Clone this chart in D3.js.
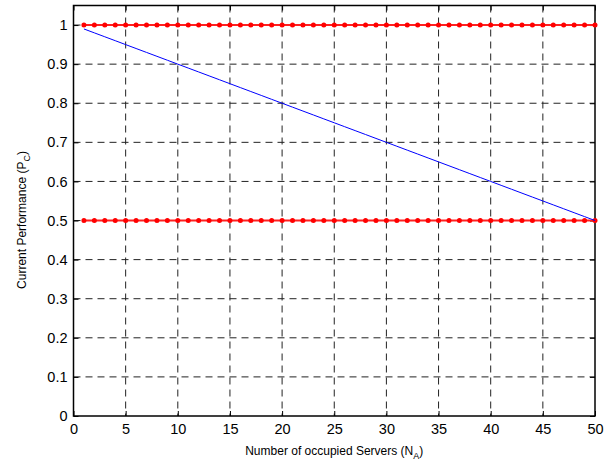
<!DOCTYPE html>
<html>
<head>
<meta charset="utf-8">
<script src="https://cdn.jsdelivr.net/npm/d3@7"></script>
<style>
  body { margin: 0; background: #fff; }
  svg { display: block; }
  text { font-family: "Liberation Sans", Arial, Helvetica, sans-serif; fill: #000; }
</style>
</head>
<body>
<script>
'use strict';

// number of occupied servers (x values of every series)
const servers = [1, 2, 3, 4, 5, 6, 7, 8, 9, 10, 11, 12, 13, 14, 15, 16, 17, 18, 19, 20,
  21, 22, 23, 24, 25, 26, 27, 28, 29, 30, 31, 32, 33, 34, 35, 36, 37, 38, 39, 40,
  41, 42, 43, 44, 45, 46, 47, 48, 49, 50];

// current performance (blue curve)
const performance = [0.99, 0.98, 0.97, 0.96, 0.95, 0.94, 0.93, 0.92, 0.91, 0.90,
  0.89, 0.88, 0.87, 0.86, 0.85, 0.84, 0.83, 0.82, 0.81, 0.80,
  0.79, 0.78, 0.77, 0.76, 0.75, 0.74, 0.73, 0.72, 0.71, 0.70,
  0.69, 0.68, 0.67, 0.66, 0.65, 0.64, 0.63, 0.62, 0.61, 0.60,
  0.59, 0.58, 0.57, 0.56, 0.55, 0.54, 0.53, 0.52, 0.51, 0.50];

// upper and lower limits (red dotted lines)
const upperLimit = 1.0;
const lowerLimit = 0.5;

const xTicks = [0, 5, 10, 15, 20, 25, 30, 35, 40, 45, 50];
const yTicks = [0, 0.1, 0.2, 0.3, 0.4, 0.5, 0.6, 0.7, 0.8, 0.9, 1];

const W = 616, H = 463;
const margin = {top: 5.5, right: 21, bottom: 47, left: 73.5};
const width = W - margin.left - margin.right;
const height = H - margin.top - margin.bottom;

const svg = d3.select('body').append('svg')
  .attr('width', W)
  .attr('height', H);

const g = svg.append('g')
  .attr('transform', 'translate(' + margin.left + ',' + margin.top + ')');

const x = d3.scaleLinear().domain([0, 50]).range([0, width]);
const y = d3.scaleLinear().domain([0, 1.05]).range([height, 0]);

// dashed grid
g.append('g').selectAll('line')
  .data(xTicks.slice(1, -1))
  .enter().append('line')
  .attr('x1', d => x(d)).attr('x2', d => x(d))
  .attr('y1', 0).attr('y2', height)
  .style('stroke', '#222')
  .style('stroke-width', 1)
  .style('stroke-dasharray', '7,5');

g.append('g').selectAll('line')
  .data(yTicks.slice(1))
  .enter().append('line')
  .attr('x1', 0).attr('x2', width)
  .attr('y1', d => y(d)).attr('y2', d => y(d))
  .style('stroke', '#222')
  .style('stroke-width', 1)
  .style('stroke-dasharray', '7,5');

// axes with inward ticks
const xAxis = g.append('g')
  .attr('transform', 'translate(0,' + height + ')')
  .call(d3.axisBottom(x).tickValues(xTicks).tickSizeInner(-5).tickSizeOuter(0).tickPadding(8).tickFormat(d3.format('d')));

const xAxisTop = g.append('g')
  .call(d3.axisTop(x).tickValues(xTicks).tickSizeInner(-5).tickSizeOuter(0).tickFormat(''));

const yAxis = g.append('g')
  .call(d3.axisLeft(y).tickValues(yTicks).tickSizeInner(-5).tickSizeOuter(0).tickPadding(6).tickFormat(d => d3.format('~g')(d)));

const yAxisRight = g.append('g')
  .attr('transform', 'translate(' + width + ',0)')
  .call(d3.axisRight(y).tickValues(yTicks).tickSizeInner(-5).tickSizeOuter(0).tickFormat(''));

[xAxis, xAxisTop, yAxis, yAxisRight].forEach(a => {
  a.select('.domain').remove();
  a.selectAll('.tick line').style('stroke', '#000');
  a.selectAll('text').style('font-size', '14.5px').style('font-family', '"Liberation Sans", Arial, sans-serif');
});

// box around plot area
g.append('rect')
  .attr('x', 0).attr('y', 0)
  .attr('width', width).attr('height', height)
  .style('fill', 'none')
  .style('stroke', '#000')
  .style('stroke-width', 1.5);

// red limit lines with dot markers
[upperLimit, lowerLimit].forEach(level => {
  const pts = servers.map(s => ({n: s, v: level}));
  g.append('path')
    .datum(pts)
    .attr('d', d3.line().x(d => x(d.n)).y(d => y(d.v)))
    .style('fill', 'none')
    .style('stroke', '#ff2020')
    .style('stroke-width', 2);
  g.append('g').selectAll('circle')
    .data(pts)
    .enter().append('circle')
    .attr('cx', d => x(d.n))
    .attr('cy', d => y(d.v))
    .attr('r', 2.5)
    .style('fill', '#ff0000');
});

// blue performance curve
g.append('path')
  .datum(servers.map((s, i) => ({n: s, v: performance[i]})))
  .attr('d', d3.line().x(d => x(d.n)).y(d => y(d.v)))
  .style('fill', 'none')
  .style('stroke', '#0000ff')
  .style('stroke-width', 1);

// axis labels
const xl = svg.append('text')
  .attr('x', margin.left + width / 2)
  .attr('y', 455)
  .style('text-anchor', 'middle')
  .style('font-size', '12px');
xl.append('tspan').text('Number of occupied Servers (N');
xl.append('tspan').attr('dy', 4).style('font-size', '9px').text('A');
xl.append('tspan').attr('dy', -4).text(')');

const yl = svg.append('text')
  .attr('transform', 'translate(26,220) rotate(-90)')
  .style('text-anchor', 'middle')
  .style('font-size', '12px');
yl.append('tspan').text('Current Performance (P');
yl.append('tspan').attr('dy', 4).style('font-size', '9px').text('C');
yl.append('tspan').attr('dy', -4).text(')');
</script>
</body>
</html>
